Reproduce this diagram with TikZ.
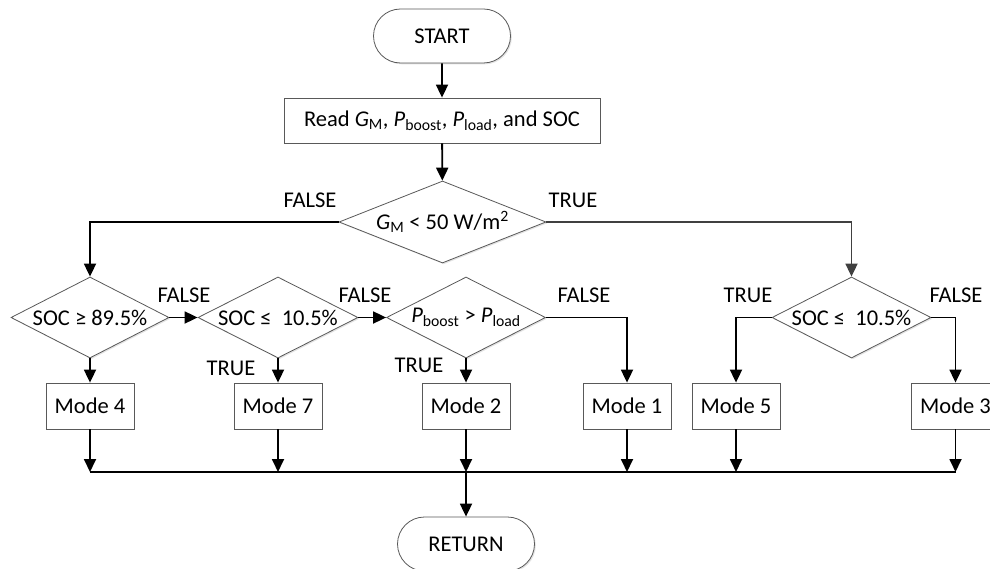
\documentclass[tikz,border=0pt]{standalone}
\usepackage{fontspec}
\setmainfont{Carlito}
\usetikzlibrary{shapes.geometric,shapes.misc,arrows.meta,shadows}
\definecolor{edgegray}{HTML}{595959}
\definecolor{darkline}{HTML}{404040}
\begin{document}
\begin{tikzpicture}[x=1pt,y=-1pt,
  font=\fontsize{22.5}{26}\selectfont,
  shp/.style={draw=edgegray, line width=0.8pt, fill=white, inner sep=0pt,
    drop shadow={shadow xshift=1.3pt, shadow yshift=-1.3pt, fill=black!22}},
  term/.style={shp, rounded rectangle, minimum width=137pt, minimum height=54pt},
  procbox/.style={shp, rectangle, minimum width=88pt, minimum height=46pt},
  dec/.style={shp, diamond, minimum height=81pt},
  conn/.style={line width=1.8pt, black},
  arr/.style={conn, -{Triangle[length=13pt,width=12pt]}},
  lbl/.style={inner sep=0pt}
]
\useasboundingbox (0,0) rectangle (990,569);
\clip (0,0) rectangle (990,569);

% nodes
\node[term] (start) at (442,36) {START};
\node[shp, rectangle, minimum width=316pt, minimum height=45pt] (read) at (442,120.5)
  {Read \textit{G}\textsubscript{M}, \textit{P}\textsubscript{boost}, \textit{P}\textsubscript{load}, and SOC};
\node[dec, minimum width=207pt, minimum height=82pt,
  label={[name=t0]center:\textit{G}\textsubscript{M} < 50 W/m\textsuperscript{2}}] (d0) at (442.5,222) {};

\node[dec, minimum width=158pt, label={[name=t1]center:SOC ≥ 89.5\%}] (d1) at (90,317.5) {};
\node[dec, minimum width=160pt, label={[name=t2]center:SOC ≤\ \ 10.5\%}] (d2) at (278,317.5) {};
\node[dec, minimum width=159pt,
  label={[name=t3]center:\textit{P}\textsubscript{boost} > \textit{P}\textsubscript{load}}] (d3) at (466,317.5) {};
\node[dec, minimum width=159pt, label={[name=t4]center:SOC ≤\ \ 10.5\%}] (d4) at (851.5,317.5) {};

\node[procbox] (m4) at (90,406) {Mode 4};
\node[procbox] (m7) at (278,406) {Mode 7};
\node[procbox] (m2) at (466,406) {Mode 2};
\node[procbox] (m1) at (627,406) {Mode 1};
\node[procbox] (m5) at (736,406) {Mode 5};
\node[procbox] (m3) at (955.5,406) {Mode 3};

\node[term] (ret) at (466,544) {RETURN};

\coordinate (busL) at (90,472);
\coordinate (busR) at (955.5,472);

% labels
\node[lbl] (lf0) at (310,200) {FALSE};
\node[lbl] (lt0) at (573,200) {TRUE};
\node[lbl] (lf1) at (184,295) {FALSE};
\node[lbl] (lf2) at (365,295) {FALSE};
\node[lbl] (lf3) at (584,295) {FALSE};
\node[lbl] (lt4) at (748,295) {TRUE};
\node[lbl] (lf4) at (956,295) {FALSE};
\node[lbl] (lt2) at (231,368) {TRUE};
\node[lbl] (lt3) at (419,365) {TRUE};

% connectors
\draw[arr] (start) -- (read);
\draw[arr] (read) -- (d0);
\draw[arr] (d0.west) -| (d1.north);
\draw[arr, darkline] (d0.east) -| (d4.north);
\draw[arr] (d1.east) -- (d2.west);
\draw[arr] (d2.east) -- (d3.west);
\draw[arr] (d1.south) -- (m4.north);
\draw[arr] (d2.south) -- (m7.north);
\draw[arr] (d3.south) -- (m2.north);
\draw[arr] (d3.east) -| (m1.north);
\draw[arr] (d4.west) -| (m5.north);
\draw[arr] (d4.east) -| (m3.north);

\draw[conn, line width=1.4pt] (busL) -- (busR);
\foreach \m in {m4,m7,m2,m1,m5,m3}
  \draw[arr] (\m.south) -- (\m.south |- busL);
\draw[arr] (m2.south |- busL) -- (ret.north);
\end{tikzpicture}
\end{document}
